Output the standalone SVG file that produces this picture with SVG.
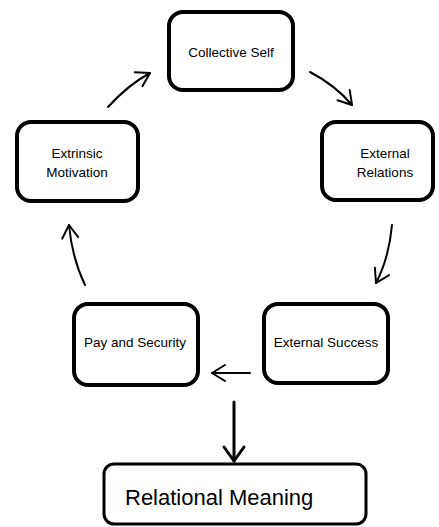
<svg xmlns="http://www.w3.org/2000/svg" width="439" height="527" viewBox="0 0 439 527">
<defs>
<marker id="ah" markerUnits="userSpaceOnUse" markerWidth="30" markerHeight="30" refX="0" refY="0" viewBox="-20 -15 30 30" orient="auto">
<path d="M-13,-8 L0,0 L-13,8" fill="none" stroke="#000" stroke-width="2" stroke-linecap="round" stroke-linejoin="round"/>
</marker>
<marker id="ahb" markerUnits="userSpaceOnUse" markerWidth="40" markerHeight="40" refX="0" refY="0" viewBox="-20 -20 40 40" orient="auto">
<path d="M-14,-10 L0,0 L-14,10" fill="none" stroke="#000" stroke-width="3" stroke-linecap="round" stroke-linejoin="round"/>
</marker>
</defs>
<style>
.box{fill:#fff;stroke:#000;stroke-width:4}
.t{font-family:"Liberation Sans",Arial,sans-serif;font-size:13.5px;fill:#000;text-anchor:middle}
.big{font-family:"Liberation Sans",Arial,sans-serif;font-size:22px;fill:#000}
.c{fill:none;stroke:#000;stroke-width:2;stroke-linecap:round}
</style>
<rect width="439" height="527" fill="#fff"/>
<g id="collective-self">
<rect class="box" x="169" y="12" width="124" height="78" rx="14"/>
<text class="t" x="231" y="57">Collective Self</text>
</g>
<g id="external-relations">
<rect class="box" x="322" y="122" width="111" height="78" rx="14"/>
<text class="t" x="385" y="158">External</text>
<text class="t" x="385" y="177">Relations</text>
</g>
<g id="external-success">
<rect class="box" x="264" y="304" width="124" height="79" rx="14"/>
<text class="t" x="326" y="347">External Success</text>
</g>
<g id="pay-and-security">
<rect class="box" x="74" y="304" width="124" height="81" rx="14"/>
<text class="t" x="135" y="347">Pay and Security</text>
</g>
<g id="extrinsic-motivation">
<rect class="box" x="17" y="122" width="121" height="79" rx="14"/>
<text class="t" x="77" y="158">Extrinsic</text>
<text class="t" x="77" y="177">Motivation</text>
</g>
<g id="relational-meaning">
<rect class="box" x="104" y="464" width="262" height="60" rx="10" style="stroke-width:3"/>
<text class="big" x="125" y="505">Relational Meaning</text>
</g>
<g id="connectors">
<path class="c" d="M310,72 Q335,85 352,105" marker-end="url(#ah)"/>
<path class="c" d="M392,225 Q389,258 376,283" marker-end="url(#ah)"/>
<path class="c" d="M250,373 L212,373" marker-end="url(#ah)"/>
<path class="c" d="M85,285 Q72,258 69,225" marker-end="url(#ah)"/>
<path class="c" d="M108,107 Q128,85 150,73" marker-end="url(#ah)"/>
<path class="c" d="M234,402 L234,461" style="stroke-width:3" marker-end="url(#ahb)"/>
</g>
</svg>
